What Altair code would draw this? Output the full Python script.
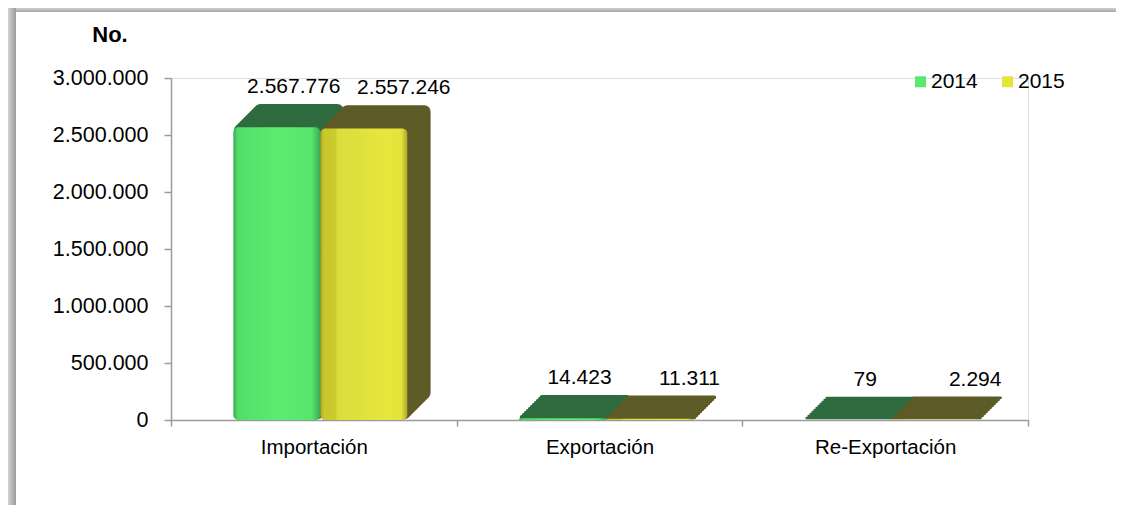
import altair as alt
import pandas as pd

# ---- data ----
categories = ["Importación", "Exportación", "Re-Exportación"]
years = ["2014", "2015"]
values_2014 = [2567776, 14423, 79]
values_2015 = [2557246, 11311, 2294]
y_ticks = [0, 500000, 1000000, 1500000, 2000000, 2500000, 3000000]
title_text = "No."

rows = []
for yr, vals in zip(years, [values_2014, values_2015]):
    for c, v in zip(categories, vals):
        rows.append({"cat": c, "year": yr, "value": v})
df = pd.DataFrame(rows)
one = pd.DataFrame({"k": [0]})

# ---- layout / style ----
W, H = 857, 342
BAR_W = 87
DEPTH = 22
FONT = "Liberation Sans"
AXIS_GRAY = "#9a9a9a"


def hgrad(stops):
    return alt.Gradient(
        gradient="linear",
        stops=[alt.GradientStop(color=c, offset=o) for o, c in stops],
        x1=0, x2=1, y1=0, y2=0,
    )


def vgrad(stops):
    return alt.Gradient(
        gradient="linear",
        stops=[alt.GradientStop(color=c, offset=o) for o, c in stops],
        x1=0, x2=0, y1=0, y2=1,
    )


style = {
    "2014": {
        "dx": -37,
        "label_dx": -20,
        "dark": "#2e6b3f",
        "front": hgrad([(0, "#3aa852"), (0.05, "#52de69"), (0.5, "#5cec70"),
                        (0.9, "#56e66c"), (1, "#3ba852")]),
    },
    "2015": {
        "dx": 50,
        "label_dx": 90,
        "dark": "#5d5b26",
        "front": hgrad([(0, "#a9a923"), (0.04, "#c8c82c"), (0.17, "#caca2e"),
                        (0.2, "#dcdc3c"), (0.75, "#e6e63c"), (0.93, "#e2e23a"),
                        (1, "#a8a82a")]),
    },
}

x_enc = alt.X(
    "cat:N",
    sort=categories,
    scale=alt.Scale(paddingInner=0, paddingOuter=0),
    axis=alt.Axis(
        title=None, labelAngle=0, tickBand="extent", tickSize=6,
        labelPadding=11, labelFontSize=20.5, labelFont=FONT, labelColor="black",
        domainColor=AXIS_GRAY, tickColor=AXIS_GRAY, domainWidth=1.5, tickWidth=1.5,
        grid=False,
    ),
)
y_enc = alt.Y(
    "value:Q",
    stack=False,
    scale=alt.Scale(domain=[0, 3000000], nice=False),
    axis=alt.Axis(
        title=None, values=y_ticks, format=",d", tickSize=7, labelPadding=16,
        labelFontSize=21.5, labelFont=FONT, labelColor="black",
        domainColor=AXIS_GRAY, tickColor=AXIS_GRAY, domainWidth=1.5, tickWidth=1.5,
        grid=False,
    ),
)
y2_enc = alt.Y2Datum(datum=0)

layers = []

# frame shadow (left and top)
layers.append(
    alt.Chart(one).mark_rect(
        color=hgrad([(0, "#d4d4d4"), (1, "#9c9c9c")])
    ).encode(x=alt.value(-163), x2=alt.value(-155), y=alt.value(-70), y2=alt.value(427))
)
layers.append(
    alt.Chart(one).mark_rect(
        color=vgrad([(0, "#d0d0d0"), (1, "#a6a6a6")])
    ).encode(x=alt.value(-155), x2=alt.value(945), y=alt.value(-70), y2=alt.value(-66))
)

# pseudo-3D bars
for yr in years:
    s = style[yr]
    base = alt.Chart(df).transform_filter(alt.datum.year == yr)
    for k in range(2, DEPTH + 1, 2):
        layers.append(
            base.mark_bar(
                width=BAR_W, xOffset=s["dx"] + k, yOffset=-k, y2Offset=-k,
                fill=s["dark"], stroke=s["dark"], strokeWidth=2.5,
                strokeJoin="round", cornerRadius=5,
            ).encode(x=x_enc, y=y_enc, y2=y2_enc)
        )
    layers.append(
        base.mark_bar(
            width=BAR_W, xOffset=s["dx"], color=s["front"], cornerRadius=5,
        ).encode(x=x_enc, y=y_enc, y2=y2_enc)
    )

# value labels
for yr in years:
    s = style[yr]
    base = alt.Chart(df).transform_filter(alt.datum.year == yr)
    layers.append(
        base.mark_text(
            xOffset=s["label_dx"], dy=-34, fontSize=21, font=FONT,
            color="black", baseline="alphabetic", align="center",
        ).encode(x=x_enc, y=y_enc, text=alt.Text("value:Q", format=",d"))
    )

# legend carrier (invisible marks)
layers.append(
    alt.Chart(df).mark_square(opacity=0, size=10).encode(
        x=x_enc,
        y=y_enc,
        color=alt.Color(
            "year:N",
            scale=alt.Scale(domain=years, range=["#5be86f", "#e5e53a"]),
            legend=alt.Legend(
                title=None, orient="none", legendX=739, legendY=-7,
                direction="horizontal", symbolType="square", symbolSize=121,
                symbolOpacity=1, symbolStrokeWidth=0, labelFontSize=21,
                labelFont=FONT, labelColor="black", labelOffset=0,
                columnPadding=19,
            ),
        ),
    )
)

# title "No."
layers.append(
    alt.Chart(one).mark_text(
        text=title_text, fontSize=22, fontWeight="bold", font=FONT,
        color="black", baseline="middle", align="center",
    ).encode(x=alt.value(-61), y=alt.value(-43))
)

chart = (
    alt.layer(*layers)
    .properties(width=W, height=H, padding=0, background="white")
    .configure_view(strokeWidth=0, stroke="transparent")
    .configure(
        font=FONT,
        locale={
            "number": {
                "decimal": ",",
                "thousands": ".",
                "grouping": [3],
                "currency": ["", " €"],
            }
        },
    )
)

chart.save("out.html", embed_options={"renderer": "svg", "actions": False})
